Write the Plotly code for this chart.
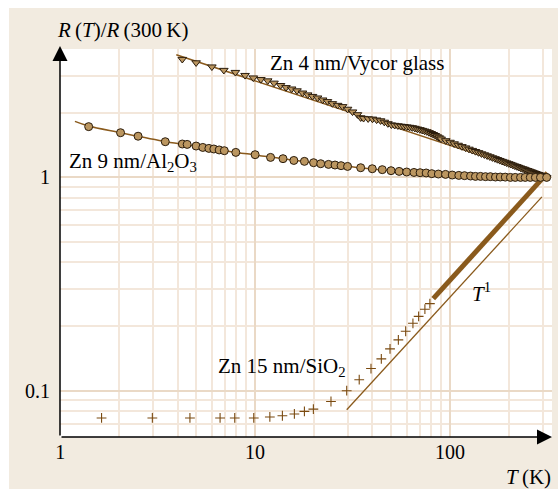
import math
import plotly.graph_objects as go

# ---------------- data ----------------
# Zn 4 nm / Vycor glass  (inverted triangles)
vycor_T = [4.23, 4.98, 6.0, 6.91, 7.92, 8.88, 9.79, 10.7, 11.6, 12.5, 13.5, 14.4,
           15.4, 16.4, 17.5, 18.6, 19.7, 20.9, 22.2, 23.5, 24.9, 26.5, 28.1, 29.8,
           31.6, 33.5, 34.8,
           36, 38, 40, 42, 44, 46, 48, 50, 52, 54, 56, 58, 60, 62, 64, 66, 68, 70,
           72, 74, 76, 78, 80, 82, 84, 86, 88, 90,
           95, 100, 105, 110, 115, 120, 125, 130, 135, 140, 145, 150, 155, 160,
           165, 170, 175, 180, 185, 190, 195, 200, 205, 210, 215, 220, 225, 230,
           235, 240, 245, 250, 255, 260, 265, 270, 275, 280, 285, 290, 295, 300,
           305, 310, 313]
vycor_R = [3.58, 3.45, 3.30, 3.18, 3.11, 3.01, 2.93, 2.88, 2.84, 2.77, 2.70, 2.64,
           2.60, 2.55, 2.49, 2.44, 2.40, 2.36, 2.31, 2.27, 2.22, 2.18, 2.15, 2.09,
           2.03, 1.97, 1.905,
           1.893, 1.885, 1.879, 1.861, 1.845, 1.817, 1.788, 1.765, 1.756, 1.748,
           1.740, 1.733, 1.727, 1.720, 1.712, 1.701, 1.688, 1.677, 1.664, 1.652,
           1.640, 1.624, 1.608, 1.591, 1.574, 1.553, 1.535, 1.515,
           1.488, 1.463, 1.439, 1.417, 1.396, 1.377, 1.358, 1.340, 1.324, 1.308,
           1.292, 1.278, 1.264, 1.251, 1.238, 1.226, 1.214, 1.202, 1.191, 1.181,
           1.171, 1.161, 1.152, 1.142, 1.133, 1.125, 1.116, 1.108, 1.100, 1.093,
           1.085, 1.078, 1.071, 1.064, 1.057, 1.051, 1.044, 1.038, 1.032, 1.026,
           1.020, 1.014, 1.009, 1.003, 1.000]
vycor_fit_T = [3.94, 313]
vycor_fit_R = [3.76, 1.0]

# Zn 9 nm / Al2O3  (circles)
al_T = [1.40, 2.04, 2.51, 3.46, 4.23, 4.48, 4.98, 5.39, 5.79, 6.14, 6.54, 6.95,
        7.96, 10.0, 12.0, 13.9, 15.8, 17.9, 19.95, 21.7, 23.8, 25.7, 27.6, 29.8,
        34.8, 39.9, 44.9, 49.8, 54.8, 59.9, 65.3, 70.2, 75.4, 80.6, 87.1, 94.8,
        102.6, 110.9, 118.6, 127.4, 135, 143.3, 152, 161, 171, 181, 192, 204,
        216, 230, 243, 258, 274, 291, 313]
al_R = [1.73, 1.62, 1.56, 1.47, 1.434, 1.428, 1.403, 1.382, 1.368, 1.359, 1.345,
        1.334, 1.310, 1.278, 1.241, 1.224, 1.201, 1.189, 1.172, 1.159, 1.151,
        1.143, 1.135, 1.126, 1.110, 1.098, 1.087, 1.075, 1.067, 1.060, 1.055,
        1.052, 1.049, 1.041, 1.037, 1.033, 1.026, 1.022, 1.019, 1.015, 1.011,
        1.011, 1.008, 1.008, 1.004, 1.004, 1.003, 1.0, 1.0, 1.0, 1.0, 1.0, 1.0,
        1.0, 1.0]
al_fit_T = [1.19, 1.4, 2.0, 3.5, 5.0, 8.0, 10, 20, 30, 50, 100, 200, 313]
al_fit_R = [1.83, 1.74, 1.625, 1.47, 1.40, 1.31, 1.275, 1.17, 1.125, 1.075,
            1.03, 1.005, 1.0]

# Zn 15 nm / SiO2  (crosses, then a dense run)
si_T = [1.63, 2.97, 4.63, 6.61, 7.86, 9.84, 11.9, 13.8, 15.9, 17.9, 19.9, 24.5,
        29.5, 34.2, 39.3, 44.4, 49.2, 54.3, 59.2, 64.5, 69.0, 74.3, 78.8]
si_R = [0.0745, 0.0745, 0.0745, 0.0745, 0.0745, 0.0745, 0.0753, 0.0763, 0.0778,
        0.080, 0.082, 0.089, 0.100, 0.1126, 0.127, 0.141, 0.157, 0.173, 0.190,
        0.207, 0.223, 0.241, 0.256]
si_dense_T = [82, 100, 150, 200, 250, 300, 316]
si_dense_R = [0.270, 0.330, 0.496, 0.663, 0.831, 0.998, 1.05]

# T^1 guide line
t1_T = [29.5, 296]
t1_R = [0.0814, 0.81]

x_major = [1, 10, 100]
x_major_text = ["1", "10", "100"]
x_minor = [2, 3, 4, 5, 6, 7, 8, 9, 20, 30, 40, 50, 60, 70, 80, 90, 200, 300]
y_major = [0.1, 1]
y_major_text = ["0.1", "1"]
y_minor = [0.07, 0.08, 0.09, 0.2, 0.3, 0.4, 0.5, 0.6, 0.7, 0.8, 0.9, 2, 3, 4]

# ---------------- styling ----------------
SERIF = "Liberation Serif, Times New Roman, serif"
LINE = "#8a5a1c"
CROSS = "#7a4a10"
FILL = "#bb9660"
EDGE = "#2a1c0c"
BEIGE = "#f2ebe0"
GRID_MIN = "#f3e7db"
GRID_MAJ = "#ead9c6"

fig = go.Figure()

fig.add_trace(go.Scatter(x=vycor_fit_T, y=vycor_fit_R, mode="lines",
                         line=dict(color=LINE, width=1.5), hoverinfo="skip"))
fig.add_trace(go.Scatter(x=al_fit_T, y=al_fit_R, mode="lines",
                         line=dict(color=LINE, width=1.5, shape="spline"), hoverinfo="skip"))
fig.add_trace(go.Scatter(x=t1_T, y=t1_R, mode="lines",
                         line=dict(color=LINE, width=1.3), hoverinfo="skip"))
fig.add_trace(go.Scatter(x=si_dense_T, y=si_dense_R, mode="lines",
                         line=dict(color=LINE, width=5), hoverinfo="skip"))
fig.add_trace(go.Scatter(x=si_T, y=si_R, mode="markers",
                         marker=dict(symbol="cross-thin", size=7,
                                     line=dict(color=CROSS, width=1.1))))
fig.add_trace(go.Scatter(x=vycor_T, y=vycor_R, mode="markers",
                         marker=dict(symbol="triangle-down", size=7.5, color=FILL,
                                     line=dict(color=EDGE, width=1))))
fig.add_trace(go.Scatter(x=al_T, y=al_R, mode="markers",
                         marker=dict(symbol="circle", size=8, color=FILL,
                                     line=dict(color=EDGE, width=1))))

W, H = 558, 489
L, R, T, B = 60, 6, 49, 52
pw, ph = W - L - R, H - T - B

fig.update_layout(
    width=W, height=H,
    margin=dict(l=L, r=R, t=T, b=B),
    paper_bgcolor=BEIGE,
    plot_bgcolor="white",
    showlegend=False,
    font=dict(family=SERIF, color="black", size=20),
    xaxis=dict(type="log", range=[-0.001, 2.523],
               tickmode="array", tickvals=x_major, ticktext=x_major_text,
               showgrid=True, gridcolor=GRID_MAJ, gridwidth=2,
               minor=dict(tickmode="array", tickvals=x_minor, showgrid=True,
                          gridcolor=GRID_MIN, gridwidth=1.5, ticks=""),
               showline=False, zeroline=False, ticks="",
               ticklabelstandoff=1,
               tickfont=dict(family=SERIF, size=20, color="black")),
    yaxis=dict(type="log", range=[-1.2171, 0.602],
               tickmode="array", tickvals=y_major, ticktext=y_major_text,
               showgrid=True, gridcolor=GRID_MAJ, gridwidth=2,
               minor=dict(tickmode="array", tickvals=y_minor, showgrid=True,
                          gridcolor=GRID_MIN, gridwidth=1.5, ticks=""),
               showline=False, zeroline=False, ticks="",
               ticklabelstandoff=9,
               tickfont=dict(family=SERIF, size=20, color="black")),
)

# white strips outside the beige panel (top and left)
fig.add_shape(type="rect", xref="paper", yref="paper",
              x0=-L / pw, x1=(W - L) / pw, y0=(H - B - 8) / ph, y1=(H - B) / ph,
              fillcolor="white", line_width=0, layer="below")
fig.add_shape(type="rect", xref="paper", yref="paper",
              x0=-L / pw, x1=(9 - L) / pw, y0=-B / ph, y1=(H - B) / ph,
              fillcolor="white", line_width=0, layer="below")

# axes with arrows
fig.add_annotation(xref="paper", yref="paper", x=0, y=1 + 3 / ph, ax=0, ay=ph + 3,
                   text="", showarrow=True, arrowhead=2, arrowsize=2,
                   arrowwidth=1.5, arrowcolor="black", standoff=0)
fig.add_annotation(xref="paper", yref="paper", x=1, y=0, ax=-pw, ay=0,
                   text="", showarrow=True, arrowhead=2, arrowsize=2,
                   arrowwidth=1.5, arrowcolor="black", standoff=0)

ann_font = dict(family=SERIF, size=21, color="black")
fig.add_annotation(xref="paper", yref="paper", x=(55 - L) / pw, y=(H - B - 30) / ph,
                   xanchor="left", yanchor="middle", showarrow=False, font=ann_font,
                   text="<i>R</i>\u2009(<i>T</i>)/<i>R</i>\u2009(300\u2009K)")
fig.add_annotation(xref="paper", yref="paper", x=(553 - L) / pw, y=(H - B - 477) / ph,
                   xanchor="right", yanchor="middle", showarrow=False, font=ann_font,
                   text="<i>T</i>\u2009(K)")
fig.add_annotation(x=math.log10(11.6), y=math.log10(3.45), xanchor="left", yanchor="middle",
                   showarrow=False, font=ann_font, text="Zn 4 nm/Vycor glass")
fig.add_annotation(x=math.log10(1.08), y=math.log10(1.185), xanchor="left", yanchor="middle",
                   showarrow=False, font=ann_font, text="Zn 9 nm/Al<sub>2</sub>O<sub>3</sub>")
fig.add_annotation(x=math.log10(6.3), y=math.log10(0.129), xanchor="left", yanchor="middle",
                   showarrow=False, font=ann_font, text="Zn 15 nm/SiO<sub>2</sub>")
fig.add_annotation(x=math.log10(127), y=math.log10(0.288), xanchor="left", yanchor="middle",
                   showarrow=False, font=ann_font, text="<i>T</i><sup>1</sup>")

fig.write_html("out.html", config={"displayModeBar": False},
               post_script="document.body.style.margin='0';document.body.style.padding='0';")
